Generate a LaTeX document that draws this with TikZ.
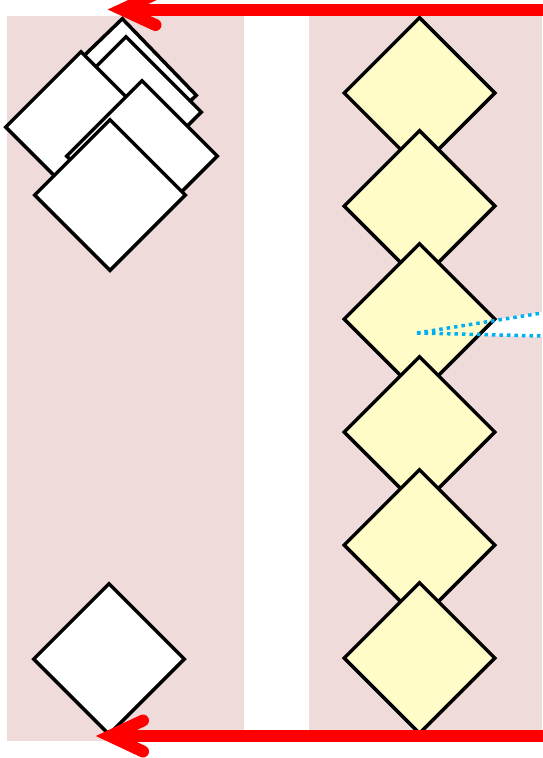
\documentclass[tikz,border=0pt]{standalone}
\usetikzlibrary{shapes.geometric}
\definecolor{lanepink}{HTML}{F0DBDB}
\definecolor{dyellow}{HTML}{FFFCC8}
\definecolor{arrowred}{HTML}{FF0000}
\definecolor{dotblue}{HTML}{00B0F0}
\tikzset{
  lane/.style={fill=lanepink},
  dia/.style={shape=diamond, draw=black, line width=3.5pt, inner sep=0pt,
    minimum width=152pt, minimum height=152pt},
  wdia/.style={dia, fill=white},
  ydia/.style={dia, fill=dyellow},
  dotline/.style={draw=dotblue, line width=3.5pt, dash pattern=on 3.5pt off 4pt},
  redshaft/.style={draw=arrowred, line width=12pt},
  redhead/.style={draw=arrowred, line width=12pt, line cap=round, line join=miter}
}
\begin{document}
\begin{tikzpicture}[x=1pt,y=-1pt]
\useasboundingbox (0,0) rectangle (542,758);
% lanes
\fill[lane] (7,16) rectangle (244,741);
\fill[lane] (309,16) rectangle (542,741);
% white wedge behind the third diamond
\fill[white] (417,333) -- (542,312) -- (542,337) -- cycle;
% left lane diamonds (stacked cluster)
\node[wdia, rotate=-1] (la) at (121,94) {};
\node[wdia] (lb) at (126,112) {};
\node[wdia] (lc) at (81,127) {};
\node[wdia] (ld) at (142,156) {};
\node[wdia] (le) at (110,195) {};
\node[wdia] (lf) at (109,659) {};
% right lane diamonds
\node[ydia] (r1) at (419.5,93) {};
\node[ydia] (r2) at (419.5,206) {};
\node[ydia] (r3) at (419.5,319) {};
\node[ydia] (r4) at (419.5,432) {};
\node[ydia] (r5) at (419.5,545) {};
\node[ydia] (r6) at (419.5,658) {};
% dotted blue lines
\coordinate (dsrc) at (417,333);
\coordinate (dup) at (542,313);
\coordinate (ddn) at (542,336);
\draw[dotline] (dsrc) -- (dup);
\draw[dotline] (dsrc) -- (ddn);
% top red arrow
\coordinate (topR) at (546,9.5);
\coordinate (topV) at (122,9.5);
\draw[redshaft] (topR) -- (topV);
\draw[redhead] (155.5,-6) -- (topV) -- (155.5,25);
% bottom red arrow
\coordinate (botR) at (546,736);
\coordinate (botV) at (110,736);
\draw[redshaft] (botR) -- (botV);
\draw[redhead] (143,720.5) -- (botV) -- (143,751.5);
\end{tikzpicture}
\end{document}
